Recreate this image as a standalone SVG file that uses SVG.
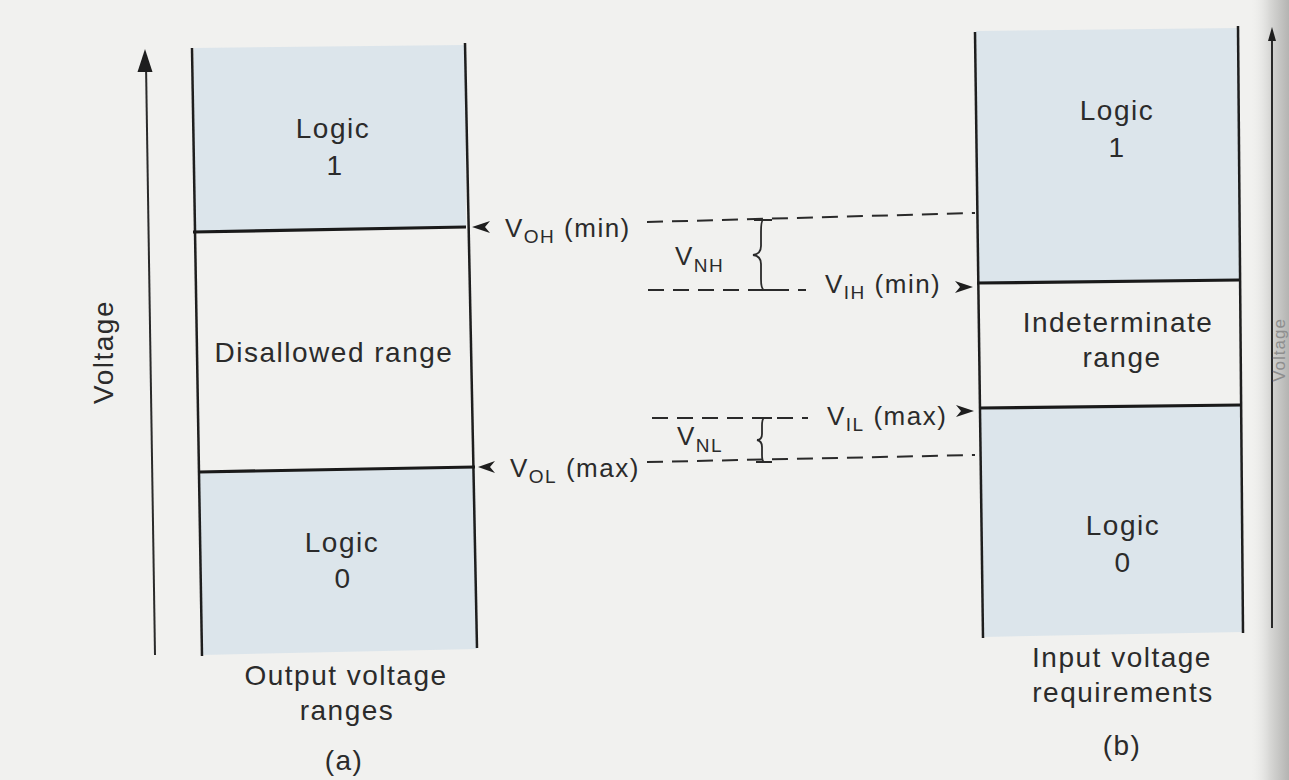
<svg xmlns="http://www.w3.org/2000/svg" width="1289" height="780" viewBox="0 0 1289 780">
  <defs>
    <linearGradient id="edge" x1="0" y1="0" x2="1" y2="0">
      <stop offset="0" stop-color="#efefed" stop-opacity="0"/>
      <stop offset="0.5" stop-color="#d8d8d6"/>
      <stop offset="1" stop-color="#b4b4b2"/>
    </linearGradient>
    <style>
      .lbl{font-family:"Liberation Sans",Arial,sans-serif;font-size:28px;letter-spacing:1.5px;fill:#2b2b2b;text-anchor:middle}
      .v{font-family:"Liberation Sans",Arial,sans-serif;font-size:26px;letter-spacing:1.5px;fill:#2b2b2b}
      .edge{stroke:#1e1e1e;stroke-width:2.5;fill:none}
      .bound{stroke:#1a1a1a;stroke-width:3.2;fill:none}
      .dash{stroke:#2a2a2a;stroke-width:2;fill:none;stroke-dasharray:16 9}
      .axis{stroke:#2a2a2a;stroke-width:2;fill:none}
      .shade{fill:#dce5eb}
      .brace{stroke:#2a2a2a;stroke-width:1.8;fill:none}
      .ah{fill:#1e1e1e}
    </style>
  </defs>
  <rect x="0" y="0" width="1289" height="780" fill="#f1f1ef"/>
  <rect x="1250" y="0" width="39" height="780" fill="url(#edge)"/>

  <g id="panel-a">
    <g id="axis-a">
      <path class="axis" d="M155 655 L146 64"/>
      <path class="ah" d="M145 49 L152.5 72 L137.5 72 Z"/>
      <text class="lbl" transform="translate(113,352) rotate(-90)">Voltage</text>
    </g>
    <g id="a-logic1">
      <polygon class="shade" points="194,48 465,45 466,227 194,232"/>
      <text class="lbl" x="333" y="138">Logic</text>
      <text class="lbl" x="335" y="175">1</text>
    </g>
    <g id="a-disallowed">
      <text class="lbl" x="334" y="362">Disallowed range</text>
    </g>
    <g id="a-logic0">
      <polygon class="shade" points="199,472 475,467 477,649 202,655"/>
      <text class="lbl" x="342" y="552">Logic</text>
      <text class="lbl" x="343" y="588">0</text>
    </g>
    <g id="a-frame">
      <path class="edge" d="M192 48 L202 656"/>
      <path class="edge" d="M465 43 L477 648"/>
      <path class="bound" d="M193 232 L466 227"/>
      <path class="bound" d="M199 472 L475 467"/>
    </g>
    <g id="a-caption">
      <text class="lbl" x="346" y="685">Output voltage</text>
      <text class="lbl" x="347" y="720">ranges</text>
      <text class="lbl" x="344" y="770">(a)</text>
    </g>
  </g>

  <g id="panel-b">
    <g id="b-logic1">
      <polygon class="shade" points="976,31 1238,28 1239,280 978,283"/>
      <text class="lbl" x="1117" y="120">Logic</text>
      <text class="lbl" x="1117" y="157">1</text>
    </g>
    <g id="b-indeterminate">
      <text class="lbl" x="1118" y="332">Indeterminate</text>
      <text class="lbl" x="1122" y="367">range</text>
    </g>
    <g id="b-logic0">
      <polygon class="shade" points="980,408 1241,405 1243,632 983,637"/>
      <text class="lbl" x="1123" y="535">Logic</text>
      <text class="lbl" x="1123" y="572">0</text>
    </g>
    <g id="b-frame">
      <path class="edge" d="M975 32 L983 638"/>
      <path class="edge" d="M1238 26 L1243 633"/>
      <path class="bound" d="M977 283 L1239 280"/>
      <path class="bound" d="M980 408 L1241 405"/>
    </g>
    <g id="b-caption">
      <text class="lbl" x="1122" y="667">Input voltage</text>
      <text class="lbl" x="1123" y="702">requirements</text>
      <text class="lbl" x="1122" y="755">(b)</text>
    </g>
    <g id="axis-b">
      <path class="axis" d="M1272 628 L1272 38"/>
      <path class="ah" d="M1272 27 L1276 41 L1268 41 Z"/>
      <text transform="translate(1285,350) rotate(-90)" style="font-family:'Liberation Sans',Arial,sans-serif;font-size:17px;letter-spacing:1px;fill:#8e8e8e;text-anchor:middle">Voltage</text>
    </g>
  </g>

  <g id="connectors">
    <path class="dash" d="M647 222 L975 213"/>
    <path class="dash" d="M648 290 L806 290"/>
    <path class="dash" d="M652 418 L808 418"/>
    <path class="dash" d="M647 462 L975 455"/>
    <path class="ah" d="M472 227 L490 221 L485 227 L490 233 Z"/>
    <path class="ah" d="M478 467 L495 461 L490 467 L495 473 Z"/>
    <path class="ah" d="M973 287 L955 281 L960 287 L955 293 Z"/>
    <path class="ah" d="M974 411 L956 405 L961 411 L956 417 Z"/>
    <path class="brace" d="M754 220 L772 220 M763 220 Q761 221 761 232 L761 246 Q761 254 753 255 Q761 256 761 264 L761 279 Q761 289 764 290 M755 290 L773 290"/>
    <path class="brace" d="M756 418 L772 418 M764 418 Q762 419 762 426 L762 434 Q762 440 757 440 Q762 441 762 447 L762 455 Q762 461 764 462 M756 462 L772 462"/>
  </g>

  <g id="labels">
    <text class="v" x="505" y="237">V<tspan font-size="19" dy="6">OH</tspan><tspan dy="-6"> (min)</tspan></text>
    <text class="v" x="825" y="293">V<tspan font-size="19" dy="6">IH</tspan><tspan dy="-6"> (min)</tspan></text>
    <text class="v" x="827" y="425">V<tspan font-size="19" dy="6">IL</tspan><tspan dy="-6"> (max)</tspan></text>
    <text class="v" x="510" y="477">V<tspan font-size="19" dy="6">OL</tspan><tspan dy="-6"> (max)</tspan></text>
    <text class="v" x="675" y="265">V<tspan font-size="19" dy="7">NH</tspan></text>
    <text class="v" x="677" y="445">V<tspan font-size="19" dy="7">NL</tspan></text>
  </g>
</svg>
